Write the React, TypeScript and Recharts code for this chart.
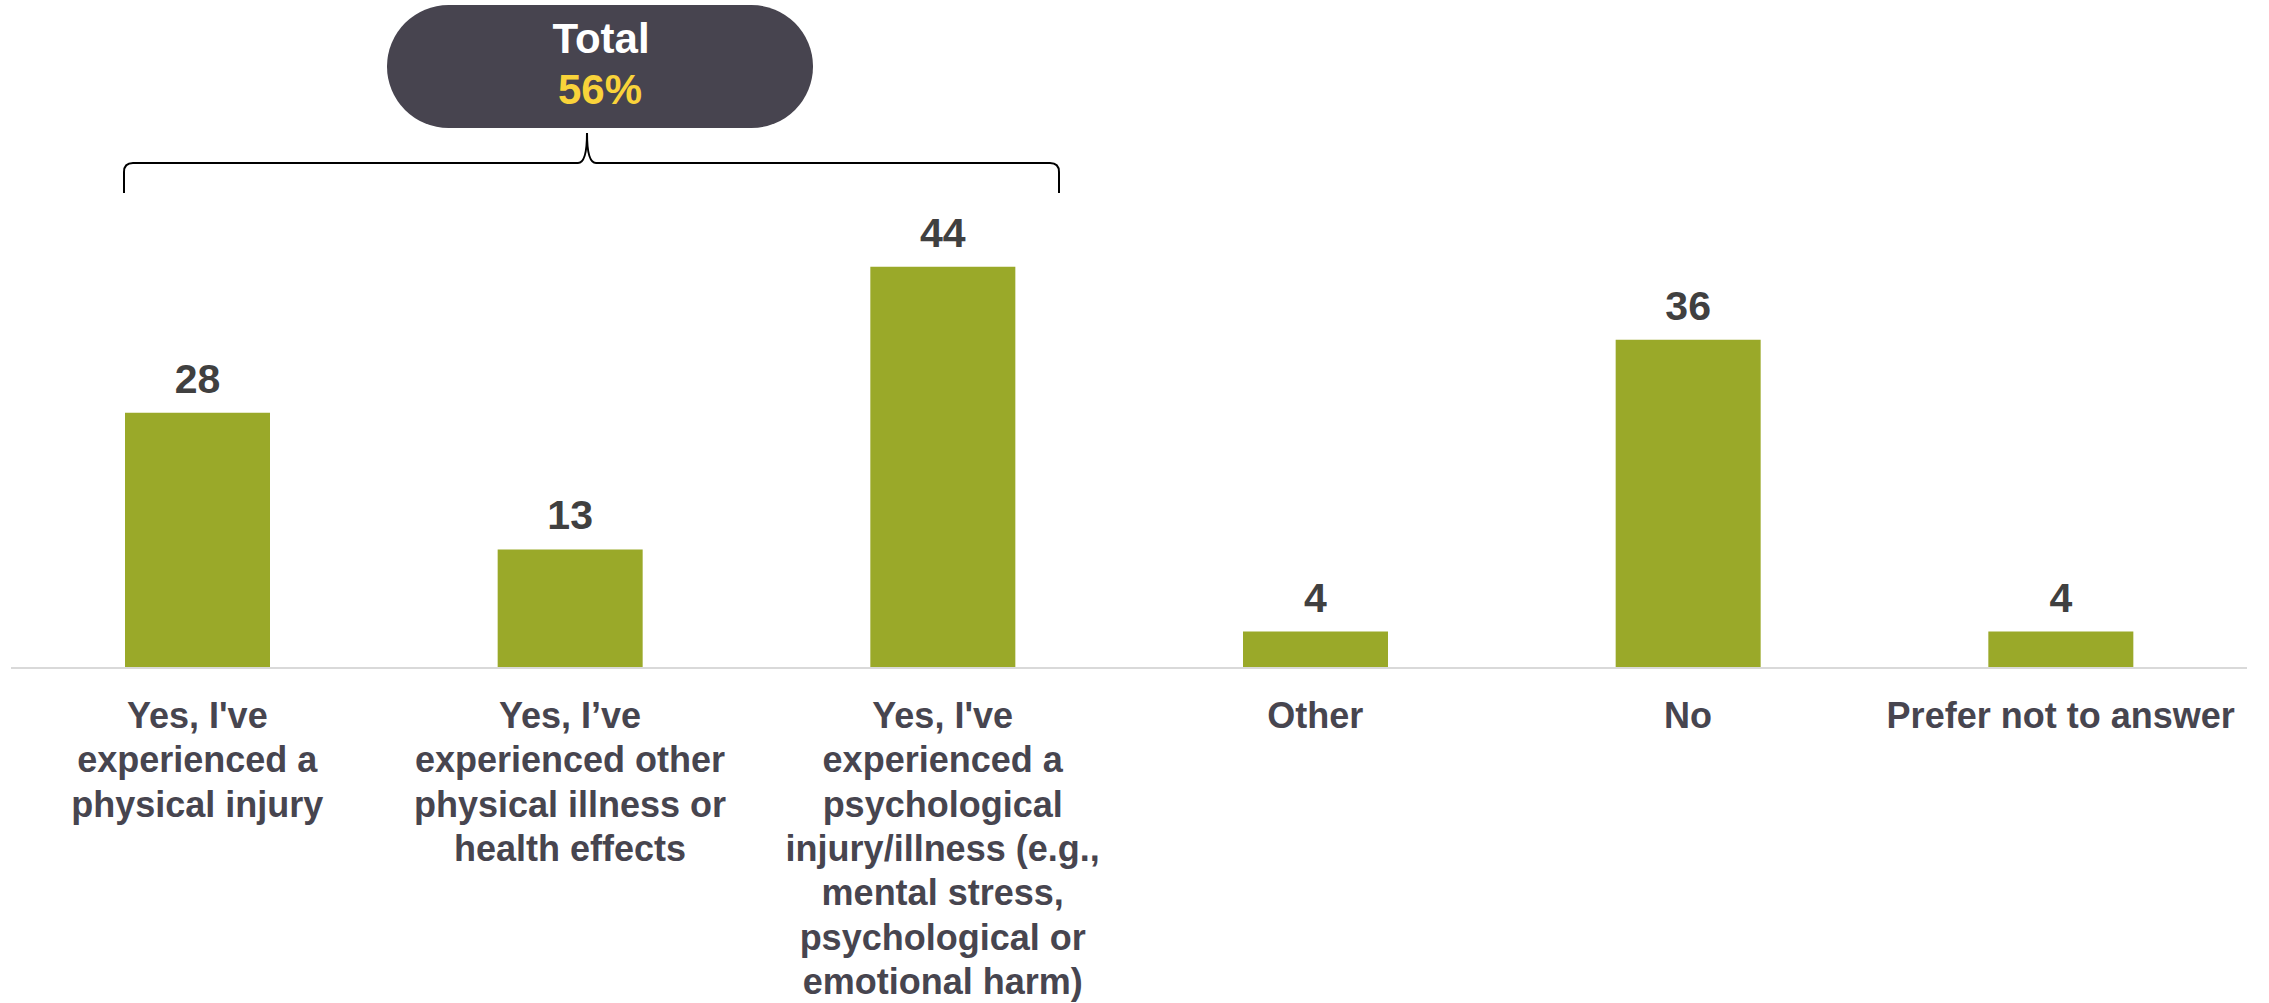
import React from 'react';
import { BarChart, Bar, XAxis, YAxis, LabelList } from 'recharts';

// categories (line breaks as in the original axis labels)
const categories = [
  "Yes, I've\nexperienced a\nphysical injury",
  'Yes, I’ve\nexperienced other\nphysical illness or\nhealth effects',
  "Yes, I've\nexperienced a\npsychological\ninjury/illness (e.g.,\nmental stress,\npsychological or\nemotional harm)",
  'Other',
  'No',
  'Prefer not to answer'
];
const values = [28, 13, 44, 4, 36, 4];

const totalTitle = 'Total';
const totalValue = '56%';

const FONT = '"Liberation Sans", Arial, sans-serif';
const BAR_COLOR = '#9aa929';
const LABEL_COLOR = '#404040';
const TICK_COLOR = '#47454f';

const data = categories.map((name, i) => ({ name, value: values[i] }));

const CategoryTick = ({ x, y, payload }: any) => {
  const lines = String(payload.value).split('\n');
  return (
    <text
      x={x}
      y={y}
      textAnchor="middle"
      fill={TICK_COLOR}
      fontSize={36}
      fontWeight={700}
      fontFamily={FONT}
    >
      {lines.map((line, i) => (
        <tspan key={i} x={x} dy={i === 0 ? 60 : 44.3}>
          {line}
        </tspan>
      ))}
    </text>
  );
};

export default function App() {
  return (
    <div style={{ position: 'absolute', left: 0, top: 0, width: 2269, height: 1003, background: '#fff' }}>
      <BarChart
        width={2269}
        height={1003}
        data={data}
        margin={{ top: 212, right: 22, left: 11, bottom: 0 }}
      >
        <XAxis
          dataKey="name"
          height={335}
          interval={0}
          tickLine={false}
          tickSize={0}
          tickMargin={0}
          axisLine={{ stroke: '#d9d9d9', strokeWidth: 2 }}
          tick={<CategoryTick />}
        />
        <YAxis hide domain={[0, 50]} />
        <Bar dataKey="value" fill={BAR_COLOR} barSize={145} isAnimationActive={false}>
          <LabelList
            dataKey="value"
            position="top"
            offset={20}
            fill={LABEL_COLOR}
            fontSize={41}
            fontWeight={700}
            fontFamily={FONT}
          />
        </Bar>
      </BarChart>

      {/* bracket + total callout */}
      <svg
        width={2269}
        height={1003}
        style={{ position: 'absolute', left: 0, top: 0, pointerEvents: 'none' }}
      >
        <path
          d="M124,193 L124,172 Q124,163 133,163 L578,163 Q587,163 587,133 Q587,163 596,163 L1050,163 Q1059,163 1059,172 L1059,193"
          fill="none"
          stroke="#000"
          strokeWidth={2}
        />
        <rect x={387} y={5} width={426} height={123} rx={61.5} fill="#47444f" />
        <text x={601} y={53} textAnchor="middle" fill="#fff" fontSize={42} fontWeight={700} fontFamily={FONT}>
          {totalTitle}
        </text>
        <text x={600} y={104} textAnchor="middle" fill="#f9d33a" fontSize={42} fontWeight={700} fontFamily={FONT}>
          {totalValue}
        </text>
      </svg>
    </div>
  );
}
